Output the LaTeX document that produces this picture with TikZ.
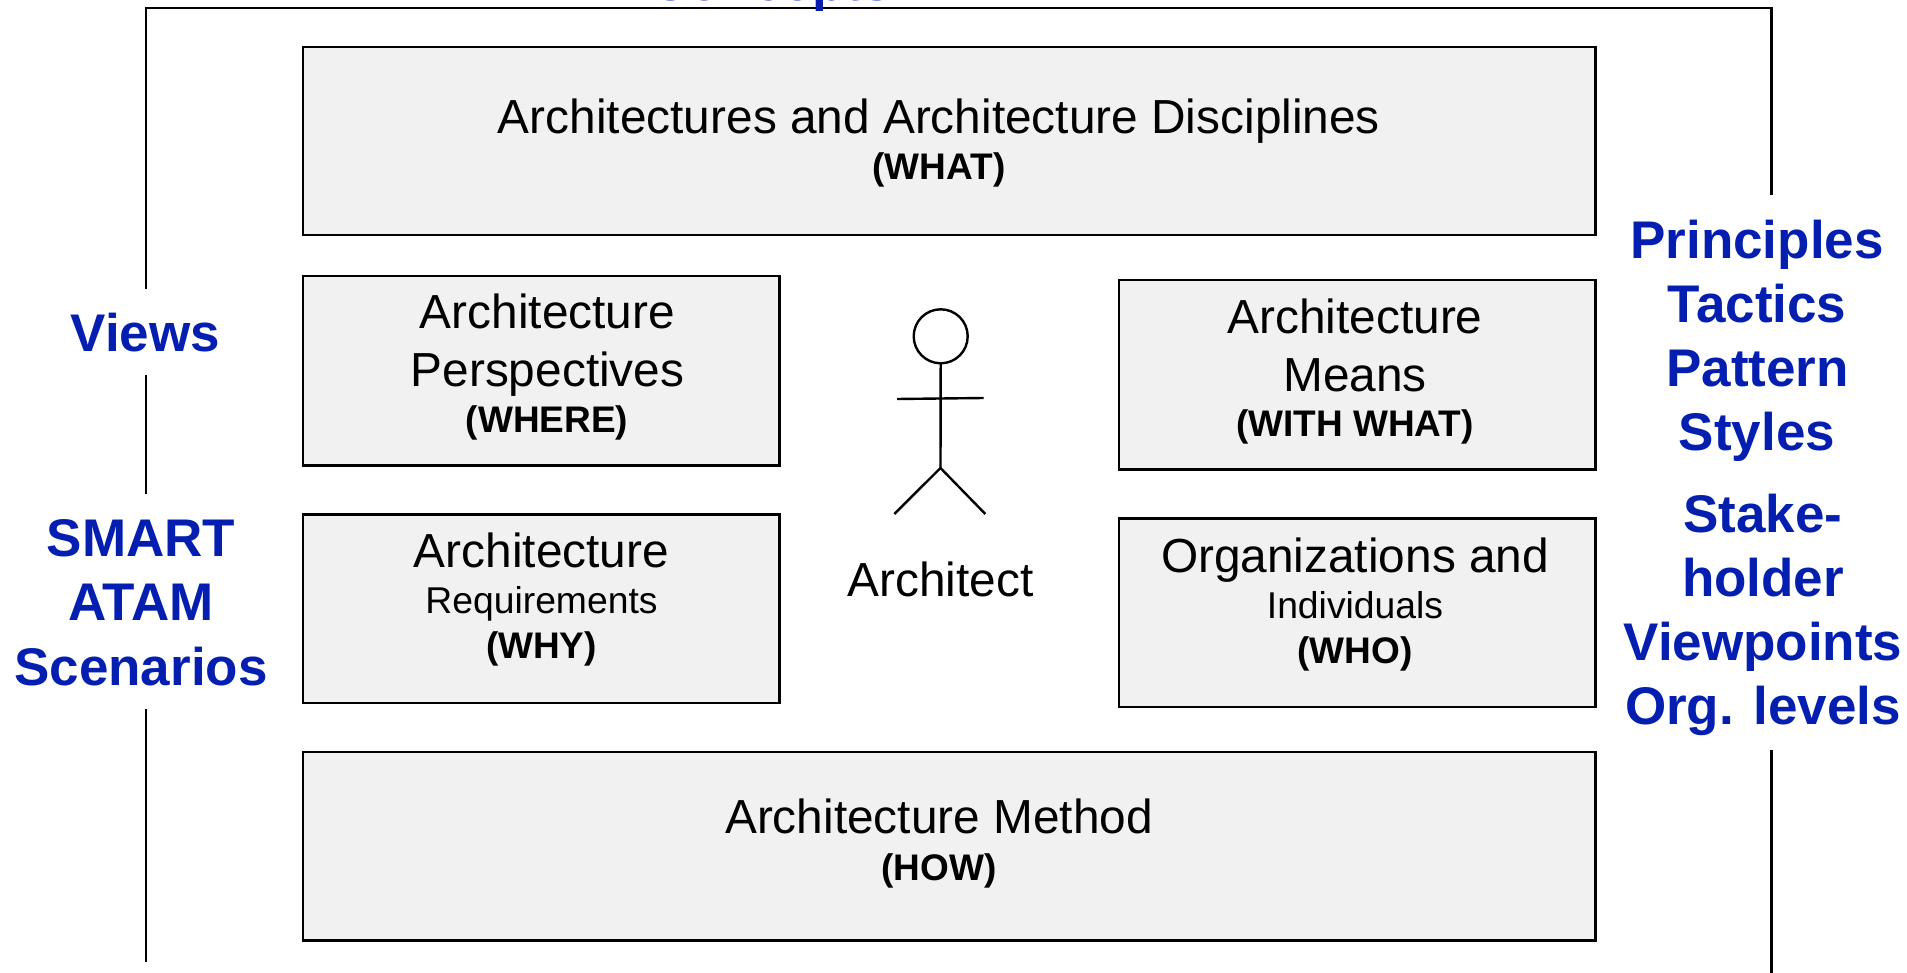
\documentclass[tikz,border=0pt]{standalone}
\usepackage{fontspec}
\setmainfont{Liberation Sans}
\definecolor{tblue}{HTML}{041EB0}
\definecolor{boxfill}{HTML}{F1F1F1}
\tikzset{
  x=1pt,y=-1pt,
  boxn/.style={draw=black,fill=boxfill,line width=2.4pt,rectangle,minimum width=#1,inner sep=0pt,outer sep=0pt},
  big/.style={anchor=base,inner sep=0pt,font=\fontsize{47.8}{48}\selectfont},
  mid/.style={anchor=base,inner sep=0pt,font=\fontsize{37.3}{37}\selectfont},
  tag/.style={anchor=base,inner sep=0pt,font=\fontsize{37}{37}\selectfont\bfseries},
  bluet/.style={anchor=base,inner sep=0pt,text=tblue,font=\fontsize{53}{53}\selectfont\bfseries},
  frameline/.style={line width=2.3pt,black},
  actorline/.style={line width=2.4pt,black},
}
\newcommand{\mybox}[5]{\node[boxn=#3-#2 pt,minimum height=#5-#4 pt] (#1) at ({(#2+#3)/2},{(#4+#5)/2}) {};}
\begin{document}
\begin{tikzpicture}
\useasboundingbox (0,0) rectangle (1907,973);
% frame
\coordinate (ltop) at (146,289);
\coordinate (tl) at (146,8);
\coordinate (tr) at (1771.5,8);
\coordinate (rtop) at (1771.5,195.5);
\coordinate (lm1) at (146,375);
\coordinate (lm2) at (146,494);
\coordinate (lb1) at (146,709);
\coordinate (lb2) at (146,962);
\coordinate (rb1) at (1771.5,750);
\coordinate (rb2) at (1771.5,973);
\draw[frameline,line join=miter] (ltop) -- (tl) -- (tr) -- (rtop);
\draw[frameline] (lm1) -- (lm2);
\draw[frameline] (lb1) -- (lb2);
\draw[frameline] (rb1) -- (rb2);
% boxes
\mybox{what}{303}{1595.5}{46.8}{235}
\mybox{where}{303}{779.5}{276.3}{465.5}
\mybox{why}{303}{779.5}{514.3}{703}
\mybox{means}{1119}{1595.5}{280.3}{469.5}
\mybox{who}{1119}{1595.5}{518.3}{707}
\mybox{how}{303}{1595.5}{751.8}{940.5}
% box text
\node[big] (t1) at (939,134) {Architectures and Architecture Disciplines};
\node[tag] (t2) at (939,180) {(WHAT)};
\node[big] (t3) at (547.5,328.6) {Architecture};
\node[big] (t4) at (547.5,387) {Perspectives};
\node[tag] (t5) at (547,432.7) {(WHERE)};
\node[big] (t6) at (1355,333.3) {Architecture};
\node[big] (t7) at (1355,392) {Means};
\node[tag] (t8) at (1355,437) {(WITH WHAT)};
\node[big] (t9) at (541.5,567) {Architecture};
\node[mid] (t10) at (541.5,613.5) {Requirements};
\node[tag] (t11) at (541.5,658) {(WHY)};
\node[big] (t12) at (1355,572) {Organizations and};
\node[mid] (t13) at (1355,618.5) {Individuals};
\node[tag] (t14) at (1355,663) {(WHO)};
\node[big] (t15) at (939,833) {Architecture Method};
\node[tag] (t16) at (939,880) {(HOW)};
% actor
\node[draw=black,line width=2.4pt,circle,minimum size=54pt,inner sep=0pt,outer sep=0pt] (head) at (940.7,336.3) {};
\coordinate (hip) at (940.5,468);
\coordinate (armL) at (897,399);
\coordinate (armR) at (983.7,398);
\coordinate (legL) at (894.3,514);
\coordinate (legR) at (985.3,514);
\draw[actorline] (head.south) -- (hip);
\draw[actorline] (armL) -- (armR);
\draw[actorline,line join=round] (legL) -- (hip) -- (legR);
\node[big] (t17) at (940.5,596) {Architect};
% blue text
\node[bluet,anchor=base west] (top) at (650,0.8) {Concepts};
\node[bluet] (b1) at (145.3,351.5) {Views};
\node[bluet] (b2) at (141,556.7) {SMART};
\node[bluet] (b3) at (141,620.5) {ATAM};
\node[bluet] (b4) at (141,685) {Scenarios};
\node[bluet] (b5) at (1757,258.5) {Principles};
\node[bluet] (b6) at (1757,322.6) {Tactics};
\node[bluet] (b7) at (1757.5,386.7) {Pattern};
\node[bluet] (b8) at (1757,450.4) {Styles};
\node[bluet] (b9) at (1763,532) {Stake-};
\node[bluet] (b10) at (1763,596.7) {holder};
\node[bluet] (b11) at (1763,660.7) {Viewpoints};
\node[bluet] (b12) at (1763,724.4) {Org. levels};
\end{tikzpicture}
\end{document}
